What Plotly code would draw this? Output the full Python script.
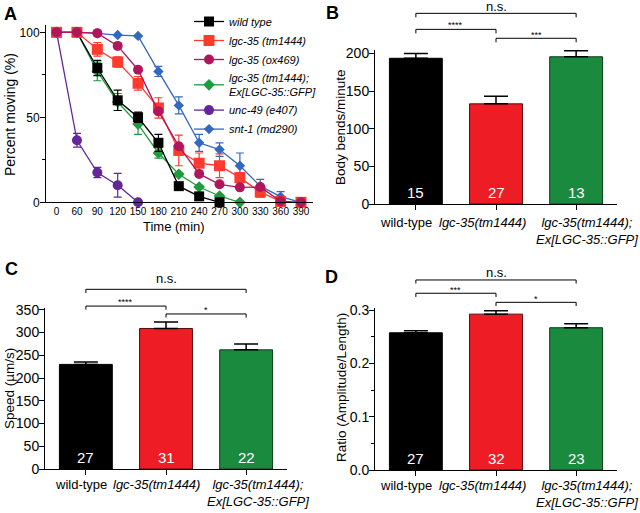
import plotly.graph_objects as go

# ---------------- Panel A data ----------------
times = ["0", "60", "90", "120", "150", "180", "210", "240", "270", "300", "330", "360", "390"]

wt_y = [100, 100, 79, 60, 50, 35, 9.5, 3.5, 0]
wt_e = [0, 0, 4.5, 6, 3, 5, 2, 1.5, 0]

tm_y = [100, 100, 90, 82.5, 70, 55.5, 30.5, 23, 21.5, 14.5, 6, 0.5, 0]
tm_e = [0, 0, 4, 3, 4, 6, 9, 6, 7, 3, 3, 0, 0]

ox_y = [100, 100, 99.5, 92, 78, 53.5, 33, 16.7, 10.6, 8.8, 9, 0.6, 0]
ox_e = [0, 0, 0, 0, 0, 0, 0, 0, 0, 0, 0, 0, 0]

res_y = [100, 100, 77, 59, 46, 29, 16.5, 9, 3.7, 0]
res_e = [0, 0, 5.5, 5, 6, 3, 1, 1, 0.5, 0]

unc_y = [100, 36.5, 17.5, 10, 0]
unc_e = [0, 4, 3, 7, 0]

snt_y = [100, 100, 99.4, 98.4, 97.9, 77, 57, 35, 31, 21.5, 9.5, 3.3, 0]
snt_e = [0, 0, 0, 0, 0, 3, 5, 5, 4, 7.5, 4, 3, 0]

# ---------------- Bar panels data ----------------
groups = ["wild-type", "lgc-35(tm1444)", "lgc-35(tm1444); Ex[LGC-35::GFP]"]
group_ticktext = ["wild-type", "<i>lgc-35(tm1444)</i>", "<i>lgc-35(tm1444);</i><br><i>Ex[LGC-35::GFP]</i>"]

bends = [193.5, 133, 195.5]
bends_err = [6.5, 10, 8]
bends_n = ["15", "27", "13"]

speed = [230, 309, 262]
speed_err = [5.5, 14, 13]
speed_n = ["27", "31", "22"]

ratio = [0.2575, 0.2925, 0.267]
ratio_err = [0.004, 0.0065, 0.0075]
ratio_n = ["27", "32", "23"]

sig_b = ["n.s.", "****", "***"]
sig_c = ["n.s.", "****", "*"]
sig_d = ["n.s.", "***", "*"]

bar_colors = ["#000000", "#ee1c25", "#1a8a3f"]
bar_line = ["#000000", "#5a0a0a", "#0b3a1a"]

FONT = "Liberation Sans, Arial, Helvetica, sans-serif"

fig = go.Figure()

series = [
    ("<i>wild type</i>", wt_y, wt_e, "#000000", "square", 10, 1),
    ("<i>lgc-35 (tm1444)</i>", tm_y, tm_e, "#ff3a2e", "square", 11, 2),
    ("<i>lgc-35 (ox469)</i>", ox_y, ox_e, "#b0165c", "circle", 10, 3),
    ("<i>lgc-35 (tm1444);</i><br><i>Ex[LGC-35::GFP]</i>", res_y, res_e, "#1f9a3c", "diamond", 9, 4),
    ("<i>unc-49 (e407)</i>", unc_y, unc_e, "#63279a", "circle", 10, 5),
    ("<i>snt-1 (md290)</i>", snt_y, snt_e, "#3468c0", "diamond", 8, 6),
]
draw_order = [5, 4, 3, 0, 1, 2]
for idx in draw_order:
    name, ys, es, col, sym, size, rank = series[idx]
    fig.add_trace(go.Scatter(
        x=times[:len(ys)], y=ys, name=name, mode="lines+markers",
        line=dict(color=col, width=1.3),
        marker=dict(symbol=sym, size=size, color=col),
        error_y=dict(type="data", array=es, visible=True, color=col, thickness=1.2, width=4),
        legendrank=rank, xaxis="x", yaxis="y", cliponaxis=False,
    ))

def add_bars(vals, errs, ax):
    fig.add_trace(go.Bar(
        x=groups, y=vals, width=0.66,
        marker=dict(color=bar_colors, line=dict(color=bar_line, width=1)),
        error_y=dict(type="data", array=errs, arrayminus=[0, 0, 0], symmetric=False,
                     color="#000000", thickness=1.5, width=12),
        showlegend=False, xaxis="x" + ax, yaxis="y" + ax,
    ))

add_bars(bends, bends_err, "2")
add_bars(speed, speed_err, "3")
add_bars(ratio, ratio_err, "4")

annotations = []
shapes = []

def n_labels(ns, ax):
    for g, n in zip(groups, ns):
        annotations.append(dict(x=g, y=0, xref="x" + ax, yref="y" + ax, text=n, showarrow=False,
                                yshift=12, font=dict(size=15, color="white", family=FONT)))

n_labels(bends_n, "2")
n_labels(speed_n, "3")
n_labels(ratio_n, "4")

# category labels under bars (placed like the original, slightly spread out)
def cat_labels(ax, ys, shifts):
    for g, t, s in zip(groups, group_ticktext, shifts):
        annotations.append(dict(x=g, y=0, xref="x" + ax, yref="y" + ax, text=t, showarrow=False,
                                xanchor="center", yanchor="top", xshift=s, yshift=ys,
                                font=dict(size=13, family=FONT, color="black")))

cat_labels("2", -9, [-10, -14, 11])
cat_labels("3", -6, [-5, -10, 12])
cat_labels("4", -6, [-10, -14, 11])

def bracket(ax, x0, x1, ytop, ybot, label, ytext, fsize):
    xr = "x" + ax
    yr = "y" + ax + " domain"
    for (a, b, c, d) in [(x0, ytop, x1, ytop), (x0, ytop, x0, ybot), (x1, ytop, x1, ybot)]:
        shapes.append(dict(type="line", xref=xr, yref=yr, x0=a, y0=b, x1=c, y1=d,
                           line=dict(color="black", width=1)))
    annotations.append(dict(x=(x0 + x1) / 2, y=ytext, xref=xr, yref=yr, text=label, showarrow=False,
                            font=dict(size=fsize, family=FONT, color="black"), yanchor="middle"))

# B brackets
bracket("2", 0, 2, 1.238, 1.212, sig_b[0], 1.282, 13)
bracket("2", 0, 1, 1.134, 1.108, sig_b[1], 1.16, 9)
bracket("2", 1, 2, 1.076, 1.050, sig_b[2], 1.10, 9)
# C brackets
bracket("3", 0, 2, 1.116, 1.093, sig_c[0], 1.186, 13)
bracket("3", 0, 1, 1.012, 0.990, sig_c[1], 1.035, 9)
bracket("3", 1, 2, 0.963, 0.941, sig_c[2], 0.99, 9)
# D brackets
bracket("4", 0, 2, 1.173, 1.151, sig_d[0], 1.218, 13)
bracket("4", 0, 1, 1.091, 1.068, sig_d[1], 1.11, 9)
bracket("4", 1, 2, 1.035, 1.012, sig_d[2], 1.055, 9)

# panel letters
for letter, px, py in [("A", 2, 14), ("B", 324, 13), ("C", 3, 269), ("D", 323, 277)]:
    annotations.append(dict(x=px / 640, y=1 - py / 513, xref="paper", yref="paper", text="<b>" + letter + "</b>",
                            showarrow=False, xanchor="left", yanchor="middle",
                            font=dict(size=18, family=FONT, color="black")))

# axis titles
for text, px, py, ang, fs in [("Percent moving (%)", 10, 115, -90, 14),
                              ("Time (min)", 174, 227, 0, 13),
                              ("Body bends/minute", 341, 127, -90, 13.5),
                              ("Speed (µm/s)", 9, 389, -90, 13.5),
                              ("Ratio (Amplitude/Length)", 341, 388, -90, 13.5)]:
    annotations.append(dict(x=px / 640, y=1 - py / 513, xref="paper", yref="paper", text=text,
                            showarrow=False, xanchor="center", yanchor="middle", textangle=ang,
                            font=dict(size=fs, family=FONT, color="black")))

axis_common = dict(showline=True, linecolor="black", linewidth=1, ticks="outside", ticklen=5,
                   tickcolor="black", tickwidth=1, showgrid=False, zeroline=False,
                   automargin=False, tickangle=0)

fig.update_layout(
    width=640, height=513, margin=dict(l=0, r=0, t=0, b=0, autoexpand=False),
    paper_bgcolor="white", plot_bgcolor="white",
    font=dict(family=FONT, color="black"),
    xaxis=dict(axis_common, type="category", categoryorder="array", categoryarray=times,
               domain=[46 / 640, 313 / 640], range=[-0.52, 12.59], anchor="y", ticks="",
               tickfont=dict(size=10)),
    yaxis=dict(axis_common, domain=[1 - 202.3 / 513, 1 - 25 / 513], range=[0, 104.3], anchor="x",
               tickvals=[0, 50, 100], tickfont=dict(size=12), ticklabelstandoff=-2,
               minor=dict(tickvals=[25, 75], ticks="outside", ticklen=3, tickcolor="black")),
    xaxis2=dict(axis_common, type="category", domain=[375 / 640, 617 / 640], range=[-0.51, 2.51], anchor="y2",
                showticklabels=False),
    yaxis2=dict(axis_common, domain=[1 - 204 / 513, 1 - 50 / 513], range=[0, 204.5], anchor="x2",
                tickvals=[0, 50, 100, 150, 200], tickfont=dict(size=14), ticklabelstandoff=-3),
    xaxis3=dict(axis_common, type="category", domain=[45 / 640, 287 / 640], range=[-0.51, 2.51], anchor="y3",
                showticklabels=False),
    yaxis3=dict(axis_common, domain=[1 - 469 / 513, 1 - 308 / 513], range=[0, 354], anchor="x3",
                tickvals=[0, 50, 100, 150, 200, 250, 300, 350], tickfont=dict(size=14), ticklabelstandoff=-3),
    xaxis4=dict(axis_common, type="category", domain=[375 / 640, 617 / 640], range=[-0.51, 2.51], anchor="y4",
                showticklabels=False),
    yaxis4=dict(axis_common, domain=[1 - 470 / 513, 1 - 308 / 513], range=[0, 0.304], anchor="x4",
                tickvals=[0, 0.1, 0.2, 0.3], tickformat=".1f", tickfont=dict(size=14), ticklabelstandoff=-3,
                minor=dict(tickvals=[0.05, 0.15, 0.25], ticks="outside", ticklen=3, tickcolor="black")),
    legend=dict(x=189 / 640, y=1 - 7 / 513, xanchor="left", yanchor="top", bgcolor="rgba(0,0,0,0)",
                font=dict(size=11, family=FONT), itemwidth=30, tracegroupgap=0),
    annotations=annotations, shapes=shapes,
)

fig.write_html("out.html", config={"displayModeBar": False},
               post_script="document.body.style.margin='0px';document.body.style.overflow='hidden';")
